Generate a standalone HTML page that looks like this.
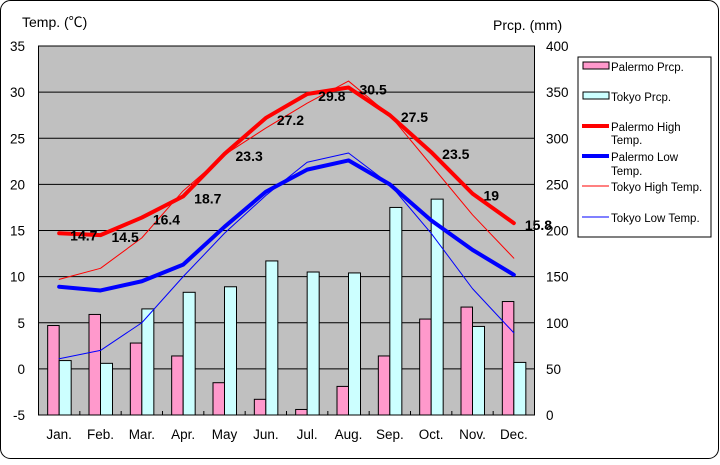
<!DOCTYPE html>
<html><head><meta charset="utf-8"><style>
body{margin:0;background:#fff;}
svg text{font-family:"Liberation Sans","Noto Sans CJK JP",sans-serif;}
</style></head><body>
<svg id="chart" width="720" height="460" xmlns="http://www.w3.org/2000/svg">
<rect x="0.5" y="0.5" width="718" height="458" rx="10" fill="#fff" stroke="#000"/>
<rect x="38.5" y="46" width="496" height="369" fill="#c0c0c0" stroke="#000"/>
<g id="grid"></g><g id="bars"></g><g id="lines"></g><g id="labels"></g><g id="axes"></g>
<text x="22" y="27" font-size="14">Temp. (℃)</text>
<text x="493" y="30" font-size="14">Prcp. (mm)</text>
<g>
<rect x="578" y="57" width="133" height="180" fill="#fff" stroke="#000"/>
<rect x="583" y="62" width="26" height="7" fill="#ff99cc" stroke="#000"/>
<text x="611" y="71" font-size="11.5">Palermo Prcp.</text>
<rect x="583" y="92" width="26" height="7" fill="#ccffff" stroke="#000"/>
<text x="611" y="101" font-size="11.5">Tokyo Prcp.</text>
<line x1="582" y1="126" x2="609" y2="126" stroke="#f00" stroke-width="4"/>
<text x="611" y="131" font-size="11.5">Palermo High</text>
<text x="611" y="144" font-size="11.5">Temp.</text>
<line x1="582" y1="156" x2="609" y2="156" stroke="#00f" stroke-width="4"/>
<text x="611" y="161" font-size="11.5">Palermo Low</text>
<text x="611" y="175" font-size="11.5">Temp.</text>
<line x1="582" y1="186" x2="609" y2="186" stroke="#f00" stroke-width="1"/>
<text x="611" y="191" font-size="11.5">Tokyo High Temp.</text>
<line x1="582" y1="217" x2="609" y2="217" stroke="#00f" stroke-width="1"/>
<text x="611" y="222" font-size="11.5">Tokyo Low Temp.</text>
</g>
</svg>
<script>
const months=["Jan.","Feb.","Mar.","Apr.","May","Jun.","Jul.","Aug.","Sep.","Oct.","Nov.","Dec."];
const tempTicks=[-5,0,5,10,15,20,25,30,35];
const prcpTicks=[0,50,100,150,200,250,300,350,400];
const palermoPrcp=[97,109,78,64,35,17,6,31,64,104,117,123];
const tokyoPrcp=[59,56,115,133,139,167,155,154,225,234,96,57];
const palermoHigh=[14.7,14.5,16.4,18.7,23.3,27.2,29.8,30.5,27.5,23.5,19,15.8];
const palermoLow=[8.9,8.5,9.5,11.3,15.4,19.2,21.6,22.6,20.0,16.1,12.9,10.2];
const tokyoHigh=[9.7,10.9,14.2,19.3,23.2,26.1,28.8,31.2,27.5,22.1,16.7,12.0];
const tokyoLow=[1.1,2.0,5.0,10.0,14.7,18.8,22.4,23.4,20.0,14.7,8.7,3.9];
const NS="http://www.w3.org/2000/svg";
const L=38.5,R=534.5,T=46,B=415;
const step=(R-L)/12;
const xc=i=>L+step*(i+0.5);
const yT=v=>B-(v+5)*(B-T)/40;
const yP=v=>B-v*(B-T)/400;
function mk(tag,attrs,parent,txt){const e=document.createElementNS(NS,tag);for(const k in attrs)e.setAttribute(k,attrs[k]);if(txt!==undefined)e.textContent=txt;document.getElementById(parent).appendChild(e);return e;}
tempTicks.forEach(t=>{
  if(t>-5&&t<35){const g=mk('line',{x1:L,x2:R,y1:yT(t),y2:yT(t),stroke:'#000','stroke-width':1},'grid');
  
  }
  const e=mk('text',{x:25,y:yT(t)+5,'font-size':13.5,'text-anchor':'end'},'axes',String(t));
  
  
});
prcpTicks.forEach(p=>{
  const e=mk('text',{x:546,y:yP(p)+5,'font-size':13.5},'axes',String(p));
  
  
});
months.forEach((m,i)=>{
  const e=mk('text',{x:xc(i),y:439,'font-size':13.5,'text-anchor':'middle'},'axes',m);
  
  
  if(i>0){const tk=mk('line',{x1:L+step*i,x2:L+step*i,y1:B,y2:B-4,stroke:'#000'},'axes');
  
  }
  const b1=mk('rect',{x:xc(i)-11.5,y:yP(palermoPrcp[i]),width:11.5,height:B-yP(palermoPrcp[i]),fill:'#ff99cc',stroke:'#000'},'bars');
  
  
  const b2=mk('rect',{x:xc(i),y:yP(tokyoPrcp[i]),width:12,height:B-yP(tokyoPrcp[i]),fill:'#ccffff',stroke:'#000'},'bars');
  
  
});
function line(arr,color,w,name){
  const pts=arr.map((v,i)=>xc(i)+','+yT(v)).join(' ');
  const e=mk('polyline',{points:pts,fill:'none',stroke:color,'stroke-width':w,'stroke-linejoin':'round','stroke-linecap':'round'},'lines');
  
  
}
line(tokyoHigh,'#f00',1,'line-tokyo-high');
line(tokyoLow,'#00f',1,'line-tokyo-low');
line(palermoLow,'#00f',4,'line-palermo-low');
line(palermoHigh,'#f00',4,'line-palermo-high');
palermoHigh.forEach((v,i)=>{
  const e=mk('text',{x:xc(i)+11,y:yT(v)+7,'font-size':14,'font-weight':'bold'},'labels',String(v));
  
  
});
</script>
</body></html>
